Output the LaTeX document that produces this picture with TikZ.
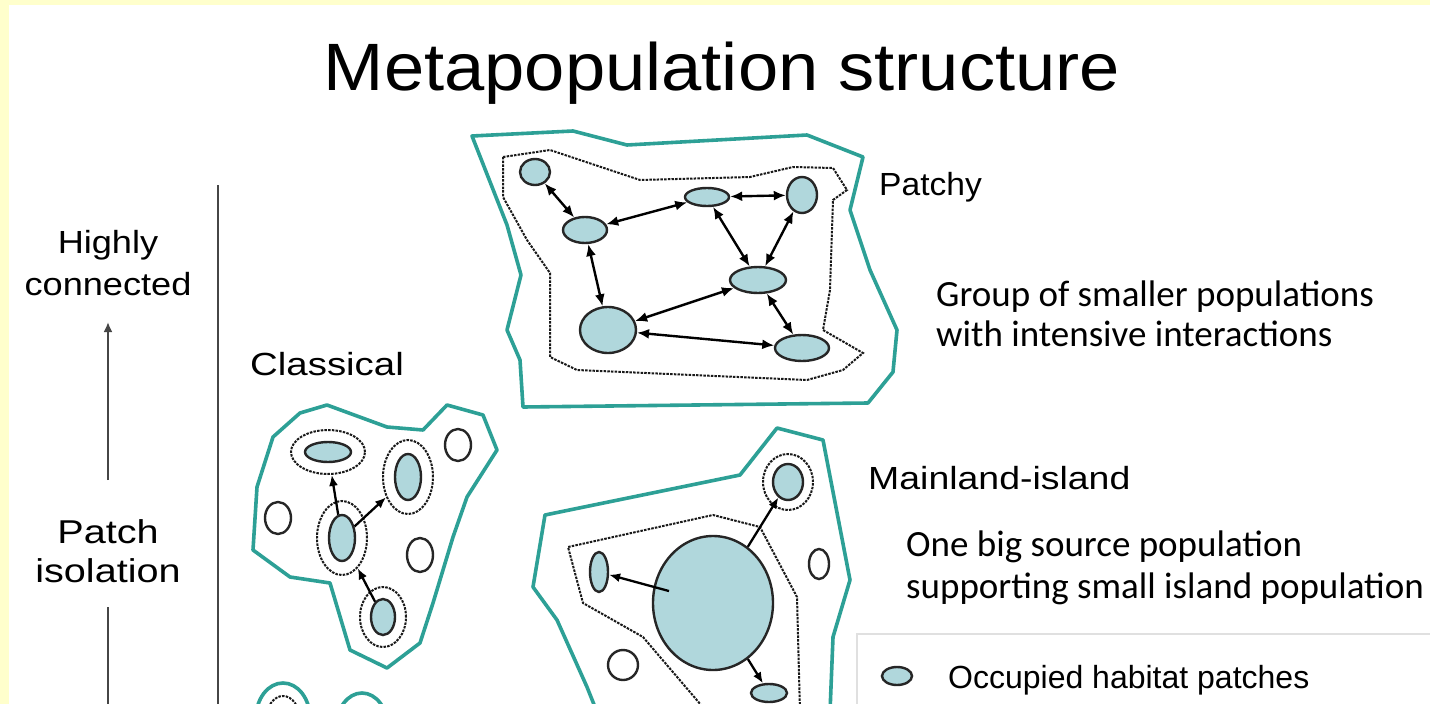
\documentclass[tikz,border=0pt]{standalone}
\usepackage{fontspec}
\usepackage{graphicx}
\setmainfont{Liberation Sans}
\newfontfamily\calib{Carlito}
\usetikzlibrary{shapes.geometric,arrows.meta}
\definecolor{bgyellow}{RGB}{255,255,204}
\definecolor{tealline}{RGB}{45,160,150}
\definecolor{patchfill}{RGB}{176,215,220}
\definecolor{axisgray}{RGB}{70,70,70}
\newcommand{\hstretch}[2]{\scalebox{#1}[1]{#2}}
\begin{document}
\begin{tikzpicture}[x=1pt,y=-1pt,
  hab/.style={draw=tealline, line width=3.6pt, line join=round},
  zone/.style={draw=black!90, line width=2pt, dash pattern=on 2.5pt off 1.2pt},
  occ/.style={ellipse, draw=black!85, line width=2.4pt, fill=patchfill, inner sep=0pt},
  emp/.style={ellipse, draw=black!85, line width=2.4pt, fill=white, inner sep=0pt},
  ring/.style={ellipse, zone, inner sep=0pt},
  dbl/.style={{Latex[length=12pt,width=10pt]}-{Latex[length=12pt,width=10pt]}, line width=2.4pt},
  arr/.style={-{Latex[length=11pt,width=9pt]}, line width=2.3pt},
  axline/.style={draw=axisgray, line width=2.2pt},
  axarr/.style={axline, -{Latex[length=10pt,width=9pt]}},
  flab/.style={font=\fontsize{32}{36}\selectfont, inner sep=0pt, anchor=base},
  blab/.style={font=\fontsize{33}{38}\selectfont, inner sep=0pt, anchor=base},
  desc/.style={font=\calib\fontsize{37}{42}\selectfont, inner sep=0pt, anchor=base west},
]
\useasboundingbox (0,0) rectangle (1430,704);
\fill[bgyellow] (0,0) rectangle (1430,704);
\fill[white] (9,5) rectangle (1430,704);

% title
\node[font=\fontsize{67}{74}\selectfont, inner sep=0pt, anchor=base] (title) at (722,90) {\hstretch{1.08}{Metapopulation structure}};

% left axis
\node[flab] (hl1) at (108,253) {\hstretch{1.13}{Highly}};
\node[flab] (hl2) at (108,295) {\hstretch{1.13}{connected}};
\node[blab] (pi1) at (108,543) {\hstretch{1.2}{Patch}};
\node[blab] (pi2) at (108,582) {\hstretch{1.2}{isolation}};
\coordinate (axlo) at (108,480);
\coordinate (axhi) at (108,322);
\coordinate (axb1) at (108,607);
\coordinate (axb2) at (108,710);
\draw[axarr] (axlo) -- (axhi);
\draw[axline] (axb1) -- (axb2);
\coordinate (vt) at (218,185);
\coordinate (vb) at (218,710);
\draw[axline] (vt) -- (vb);

% ---------- Patchy ----------
\draw[hab] (472,136) -- (573,131) -- (627,145) -- (807,135) -- (863,157) -- (850,210) -- (870,270) -- (897,330) -- (893,372) -- (868,403) -- (523,407) -- (520,360) -- (507,330) -- (521,275) -- (507,225) -- cycle;
\draw[zone] (503,157) -- (550,150) -- (640,180) -- (750,177) -- (793,167) -- (833,168) -- (847,190) -- (833,200) -- (830,290) -- (823,330) -- (863,353) -- (843,370) -- (807,380) -- (577,370) -- (550,357) -- (550,273) -- (527,240) -- (503,197) -- cycle;
\node[occ, minimum width=30pt, minimum height=26pt] (p1) at (535,172) {};
\node[occ, minimum width=44pt, minimum height=26pt] (p2) at (585,230) {};
\node[occ, minimum width=44pt, minimum height=18pt] (p3) at (707,197) {};
\node[occ, minimum width=30pt, minimum height=36pt] (p4) at (802,195) {};
\node[occ, minimum width=56pt, minimum height=26pt] (p5) at (758,280) {};
\node[occ, minimum width=56pt, minimum height=46pt] (p6) at (608,330) {};
\node[occ, minimum width=54pt, minimum height=26pt] (p7) at (802,348) {};
\draw[dbl] (p1) -- (p2);
\draw[dbl] (p2) -- (p3);
\draw[dbl] (p3) -- (p4);
\draw[dbl] (p3) -- (p5);
\draw[dbl] (p4) -- (p5);
\draw[dbl] (p2) -- (p6);
\draw[dbl] (p5) -- (p6);
\draw[dbl] (p6) -- (p7);
\draw[dbl] (p5) -- (p7);
\node[flab, anchor=base west] (patchy) at (879,195) {\hstretch{1.05}{Patchy}};
\node[desc] (g1) at (936,306) {Group of smaller populations};
\node[desc] (g2) at (936,346) {with intensive interactions};

% ---------- Classical ----------
\node[flab, anchor=base west] (classical) at (250,375) {\hstretch{1.2}{Classical}};
\draw[hab] (300,413) -- (327,405) -- (387,427) -- (423,430) -- (447,405) -- (483,415) -- (497,450) -- (467,497) -- (453,537) -- (433,603) -- (420,643) -- (387,668) -- (350,650) -- (330,583) -- (290,577) -- (253,550) -- (257,487) -- (273,437) -- cycle;
\node[ring, minimum width=74pt, minimum height=44pt] (r1) at (328,452) {};
\node[occ, minimum width=46pt, minimum height=20pt] (c1) at (328,452) {};
\node[ring, minimum width=50pt, minimum height=74pt] (r2) at (408,477) {};
\node[occ, minimum width=26pt, minimum height=46pt] (c2) at (408,477) {};
\node[ring, minimum width=50pt, minimum height=74pt] (r3) at (342,538) {};
\node[occ, minimum width=26pt, minimum height=46pt] (c3) at (342,538) {};
\node[ring, minimum width=46pt, minimum height=60pt] (r4) at (383,617) {};
\node[occ, minimum width=24pt, minimum height=36pt] (c4) at (383,617) {};
\node[emp, minimum width=26pt, minimum height=32pt] (e1) at (458,445) {};
\node[emp, minimum width=26pt, minimum height=32pt] (e2) at (278,518) {};
\node[emp, minimum width=26pt, minimum height=34pt] (e3) at (420,555) {};
\draw[arr] (c3) -- (r1);
\draw[arr] (c3) -- (r2);
\draw[arr] (c4) -- (r3);

% partial shapes at the bottom
\draw[hab] (283,718) ellipse [x radius=27, y radius=35];
\draw[zone] (283,720) ellipse [x radius=17, y radius=24];
\node[occ, minimum width=16pt, minimum height=26pt] (bp) at (283,722) {};
\draw[hab] (362,728) ellipse [x radius=26, y radius=35];

% ---------- Mainland-island ----------
\draw[hab] (597,712) -- (587,687) -- (557,620) -- (533,587) -- (545,515) -- (740,475) -- (777,428) -- (823,440) -- (850,580) -- (833,637) -- (830,712);
\draw[zone] (707,712) -- (643,637) -- (583,603) -- (568,547) -- (713,515) -- (760,527) -- (797,597) -- (800,712);
\node[occ, minimum width=120pt, minimum height=134pt] (big) at (713,603) {};
\node[ring, minimum width=50pt, minimum height=56pt] (mr) at (788,482) {};
\node[occ, minimum width=30pt, minimum height=36pt] (m1) at (788,482) {};
\node[occ, minimum width=18pt, minimum height=40pt] (m2) at (599,572) {};
\node[occ, minimum width=36pt, minimum height=18pt] (m3) at (769,693) {};
\node[emp, minimum width=20pt, minimum height=30pt] (e4) at (819,564) {};
\node[emp, minimum width=30pt, minimum height=30pt] (e5) at (623,665) {};
\draw[arr, shorten <=-16pt] (big) -- (m2);
\draw[arr] (big) -- (m1);
\draw[arr] (big) -- (m3);
\node[flab, anchor=base west] (mainland) at (868,489) {\hstretch{1.17}{Mainland-island}};
\node[desc] (o1) at (906,556) {One big source population};
\node[desc] (o2) at (906,598) {supporting small island population};

% ---------- legend ----------
\draw[draw=black!12, line width=1.2pt] (857,634) rectangle (1440,730);
\node[occ, minimum width=30pt, minimum height=18pt] (lg) at (897,676) {};
\node[font=\fontsize{32}{38}\selectfont, inner sep=0pt, anchor=base west] (lgt) at (948,688) {Occupied habitat patches};
\end{tikzpicture}
\end{document}
